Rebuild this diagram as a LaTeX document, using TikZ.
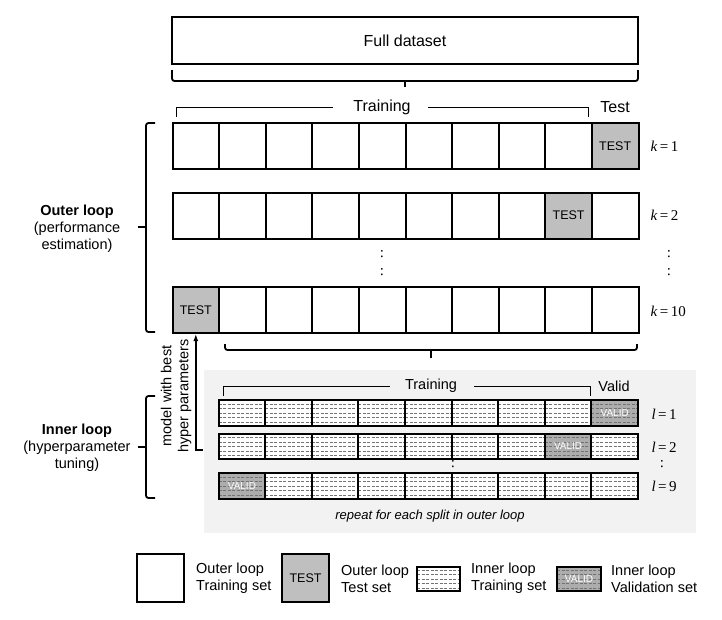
\documentclass[tikz,border=0pt]{standalone}
\usepackage{fontspec}
\setmainfont{Liberation Sans}
\newfontfamily\tms{Liberation Serif}
\usepackage{tikz}
\usetikzlibrary{arrows.meta,calc}

% dashed hatching inside the inner loop cells
\newcommand{\hatchdash}[1]{%
	\foreach \dd in {-9,-4.5,0,4.5,9}{%
		\draw[#1, line width=0.7pt, dash pattern=on 3pt off 1.5pt]
		([yshift=\dd pt]path picture bounding box.west) -- ([yshift=\dd pt]path picture bounding box.east);}}

\tikzset{
	>=latex,
	cell/.style={draw, line width=2pt, minimum width=46.6pt, minimum height=46pt,
		inner sep=0pt, font=\fontsize{12.5}{14}\selectfont},
	trcell/.style={cell, fill=white},
	testcell/.style={cell, fill=black!25},
	incell/.style={cell, minimum height=25.5pt, fill=white,
		path picture={\hatchdash{black!55}}},
	valcell/.style={cell, minimum height=25.5pt, fill=black!32, text=white,
		font=\fontsize{10}{12}\selectfont, path picture={\hatchdash{black!55}}},
	brk/.style={line width=1pt},
	brc/.style={line width=1.8pt, rounded corners=2.5pt},
	lbl/.style={font=\fontsize{16}{19}\selectfont},
	sublbl/.style={font=\fontsize{14.5}{17}\selectfont},
	idx/.style={anchor=west, font=\tms\fontsize{15}{18}\selectfont},
	dotlbl/.style={font=\tms\fontsize{15}{18}\selectfont, inner sep=0pt},
	legtxt/.style={anchor=west, align=left, inner sep=0pt, font=\fontsize{14.5}{17}\selectfont}
}

\begin{document}
\begin{tikzpicture}[x=1pt, y=-1pt]
	\useasboundingbox (0,0) rectangle (722,619);
	
	% full dataset and its brace
	\node[draw, line width=2pt, minimum width=466pt, minimum height=47pt, lbl] (full) at (405,40.5) {Full dataset};
	\draw[brc] (172,70) |- (638,81) -- (638,70);
	\draw[brc] (405,81) -- (405,87);
	
	% training / test brackets
	\node[lbl] (trn) at (382,107) {Training};
	\node[lbl] (tst) at (615,107) {Test};
	\draw[brk] (176,117) |- ([xshift=-17pt]trn.west);
	\draw[brk] ([xshift=14pt]trn.east) -| (588,117);
	
	% outer loop splits
	\foreach \row/\yy/\tc in {1/146/10, 2/215.5/9, 3/310/1}
	\foreach \i in {1,...,10}{
		\pgfmathsetmacro\xx{172.5+46.6*(\i-0.5)}
		\ifnum\i=\tc \def\st{testcell}\def\tx{TEST}\else\def\st{trcell}\def\tx{}\fi
		\node[\st] (o\row-\i) at (\xx,\yy) {\tx};
	}
	\node[idx] (k1) at (647,146) {\textit{k}\,=\,1};
	\node[idx] (k2) at (647,215.5) {\textit{k}\,=\,2};
	\node[idx] (k10) at (647,311) {\textit{k}\,=\,10};
	\node[dotlbl] (od1) at (382,254) {:};
	\node[dotlbl] (od2) at (382,272) {:};
	\node[dotlbl] (od3) at (669,254) {:};
	\node[dotlbl] (od4) at (669,272) {:};
	
	% outer loop brace and label
	\draw[brc] (155,123) -| (146,332) -- (155,332);
	\draw[brc] (146,227) -- (138,227);
	\node[sublbl, align=center] (outl) at (77,229) {\textbf{Outer loop}\\(performance\\estimation)};
	
	% inner loop area
	\fill[black!5] (204,370) rectangle (696,533);
	\draw[brc] (225,344) |- (637,350) -- (637,344);
	\draw[brc] (431,350) -- (431,358);
	\node[sublbl] (itrn) at (431,386) {Training};
	\node[sublbl] (ival) at (614,386) {Valid};
	\draw[brk] (223,396) |- ([xshift=-11.5pt]itrn.west);
	\draw[brk] ([xshift=13.5pt]itrn.east) -| (590,396);
	
	\foreach \row/\yy/\vc in {1/413/9, 2/446.5/8, 3/486/1}
	\foreach \i in {1,...,9}{
		\pgfmathsetmacro\xx{218.6+46.6*(\i-0.5)}
		\ifnum\i=\vc \def\st{valcell}\def\tx{VALID}\else\def\st{incell}\def\tx{}\fi
		\node[\st] (i\row-\i) at (\xx,\yy) {\tx};
	}
	\node[idx] (l1) at (648,414) {\textit{l}\,=\,1};
	\node[idx] (l2) at (648,447) {\textit{l}\,=\,2};
	\node[idx] (l9) at (648,486) {\textit{l}\,=\,9};
	\node[dotlbl] (id1) at (453,464) {:};
	\node[dotlbl] (id2) at (662,464) {:};
	\node[font=\itshape\fontsize{13}{15}\selectfont] (rep) at (430,516) {repeat for each split in outer loop};
	
	% inner loop brace and label
	\draw[brc] (155,396) -| (146,498) -- (155,498);
	\draw[brc] (146,447) -- (138,447);
	\node[sublbl, align=center] (inl) at (77,448) {\textbf{Inner loop}\\(hyperparameter\\tuning)};
	
	% best model goes back to the test split
	\coordinate (back) at (203,450);
	\draw[line width=1.5pt, -{Latex[length=7pt,width=5pt]}] (back) -| (o3-1.south);
	\node[sublbl, rotate=90, align=center] (mwb) at (176,396) {model with best\\hyper parameters};
	
	% legend
	\node[trcell, minimum width=47pt, minimum height=48pt] (lg1) at (160.5,578) {};
	\node[legtxt] (lt1) at (196,578.5) {Outer loop\\Training set};
	\node[testcell, minimum width=47pt, minimum height=48pt] (lg2) at (305.5,578) {TEST};
	\node[legtxt] (lt2) at (341,578.5) {Outer loop\\Test set};
	\node[incell, minimum width=43pt, minimum height=24pt] (lg3) at (438.5,579) {};
	\node[legtxt] (lt3) at (471,578.5) {Inner loop\\Training set};
	\node[valcell, minimum width=44pt, minimum height=24pt] (lg4) at (579,579) {VALID};
	\node[legtxt] (lt4) at (611,578.5) {Inner loop\\Validation set};
	
\end{tikzpicture}
\end{document}
